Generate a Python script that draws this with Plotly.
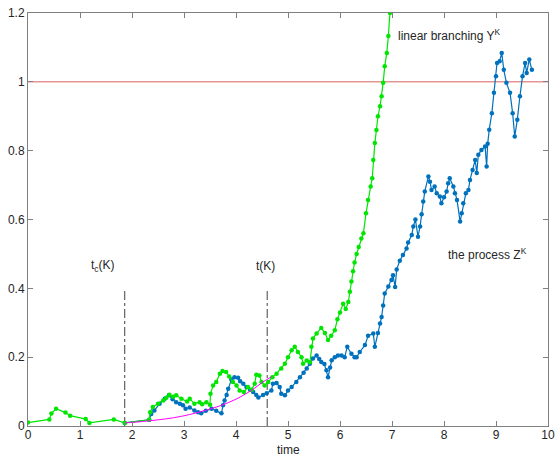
import plotly.graph_objects as go

# ---- data ----
green_x = [0, 0.41, 0.45, 0.54, 0.72, 0.81, 1.11, 1.18, 1.65, 1.86,
           2.33, 2.35, 2.40, 2.50, 2.60, 2.66, 2.72, 2.79, 2.85, 2.95, 3.06, 3.11, 3.20, 3.30, 3.35, 3.43, 3.50,
           3.51, 3.56, 3.62, 3.69, 3.74, 3.81, 3.87, 3.94, 4.01, 4.07, 4.15, 4.23, 4.30, 4.36, 4.39, 4.45, 4.49,
           4.55, 4.62, 4.70, 4.78, 4.87, 4.94, 5.00, 5.07, 5.13, 5.19, 5.26, 5.29, 5.36, 5.42, 5.45, 5.48, 5.55,
           5.64, 5.71, 5.77, 5.83, 5.90, 5.95, 6.00, 6.06, 6.11, 6.16, 6.19, 6.22, 6.25, 6.28, 6.32, 6.36, 6.41,
           6.45, 6.50, 6.54, 6.59, 6.62, 6.64, 6.67, 6.70, 6.73, 6.77, 6.80, 6.83, 6.86, 6.90, 6.93, 6.96]
green_y = [0.010, 0.019, 0.036, 0.050, 0.039, 0.030, 0.020, 0.009, 0.019, 0.009,
           0.018, 0.040, 0.055, 0.065, 0.074, 0.082, 0.091, 0.085, 0.089, 0.079, 0.071, 0.079, 0.065, 0.069, 0.063, 0.069, 0.062,
           0.094, 0.118, 0.128, 0.152, 0.160, 0.157, 0.144, 0.128, 0.118, 0.103, 0.099, 0.113, 0.105, 0.123, 0.149, 0.147, 0.128,
           0.118, 0.128, 0.142, 0.152, 0.167, 0.181, 0.200, 0.220, 0.230, 0.215, 0.200, 0.181, 0.190, 0.185, 0.230, 0.254, 0.269,
           0.285, 0.270, 0.250, 0.262, 0.278, 0.310, 0.330, 0.355, 0.340, 0.360, 0.390, 0.420, 0.450, 0.475, 0.500, 0.520, 0.545,
           0.560, 0.618, 0.657, 0.696, 0.720, 0.773, 0.822, 0.860, 0.900, 0.929, 0.958, 0.997, 1.045, 1.084, 1.133, 1.200]

blue_x = [1.86, 2.33, 2.37, 2.43, 2.53, 2.63, 2.71, 2.78, 2.85, 2.92, 2.98, 3.03, 3.11, 3.20, 3.27, 3.33, 3.42, 3.53,
          3.62, 3.72, 3.75, 3.78, 3.82, 3.85, 3.91, 3.97, 4.04, 4.08, 4.14, 4.20, 4.27, 4.33, 4.39, 4.43, 4.52, 4.59,
          4.68, 4.71, 4.78, 4.84, 4.87, 4.94, 5.00, 5.07, 5.16, 5.23, 5.30, 5.36, 5.42, 5.48, 5.55, 5.60, 5.64, 5.70,
          5.74, 5.77, 5.81, 5.84, 5.90, 5.96, 6.03, 6.09, 6.14, 6.22, 6.28, 6.32, 6.38, 6.48, 6.54, 6.64, 6.67, 6.73,
          6.77, 6.80, 6.83, 6.86, 6.93, 6.99, 7.02, 7.06, 7.09, 7.15, 7.21, 7.28, 7.31, 7.38, 7.41, 7.45, 7.50, 7.54,
          7.57, 7.60, 7.63, 7.70, 7.73, 7.76, 7.82, 7.86, 7.92, 7.95, 8.00, 8.05, 8.08, 8.11, 8.18, 8.21, 8.25, 8.31,
          8.34, 8.37, 8.42, 8.47, 8.50, 8.55, 8.60, 8.63, 8.66, 8.72, 8.79, 8.82, 8.84, 8.87, 8.92, 8.96, 9.00, 9.02,
          9.07, 9.11, 9.15, 9.20, 9.27, 9.32, 9.36, 9.41, 9.46, 9.51, 9.56, 9.59, 9.64, 9.69]
blue_y = [0.009, 0.018, 0.035, 0.045, 0.065, 0.079, 0.089, 0.078, 0.069, 0.065, 0.060, 0.050, 0.054, 0.045, 0.040, 0.037, 0.044, 0.050,
          0.044, 0.037, 0.060, 0.074, 0.090, 0.108, 0.135, 0.142, 0.140, 0.130, 0.123, 0.113, 0.105, 0.099, 0.090, 0.083, 0.090, 0.095,
          0.103, 0.123, 0.125, 0.113, 0.094, 0.089, 0.103, 0.113, 0.128, 0.142, 0.155, 0.167, 0.181, 0.196, 0.205, 0.195, 0.186, 0.180,
          0.162, 0.142, 0.170, 0.191, 0.200, 0.205, 0.205, 0.200, 0.230, 0.210, 0.200, 0.200, 0.215, 0.235, 0.262, 0.269, 0.230, 0.270,
          0.298, 0.317, 0.350, 0.385, 0.405, 0.424, 0.438, 0.404, 0.455, 0.480, 0.497, 0.516, 0.533, 0.555, 0.580, 0.600, 0.550, 0.580,
          0.615, 0.652, 0.681, 0.725, 0.710, 0.686, 0.696, 0.676, 0.667, 0.647, 0.665, 0.681, 0.705, 0.720, 0.696, 0.676, 0.657, 0.594,
          0.618, 0.647, 0.676, 0.686, 0.715, 0.744, 0.773, 0.735, 0.788, 0.802, 0.812, 0.754, 0.820, 0.861, 0.909, 0.968, 1.016, 1.055,
          1.060, 1.084, 1.035, 0.997, 0.968, 0.909, 0.841, 0.890, 0.958, 1.016, 1.055, 1.026, 1.065, 1.035]

magenta_x = [1.86, 2.2, 2.5, 2.8, 3.1, 3.4, 3.7, 4.0, 4.3, 4.5, 4.68]
magenta_y = [0.009, 0.013, 0.018, 0.024, 0.033, 0.045, 0.059, 0.078, 0.104, 0.126, 0.143]

threshold_x = [0, 10]
threshold_y = [1, 1]

tc_x = 1.86
tk_x = 4.60
marker_line_top = 0.4

x_ticks = [0, 1, 2, 3, 4, 5, 6, 7, 8, 9, 10]
y_ticks = [0, 0.2, 0.4, 0.6, 0.8, 1, 1.2]
y_tick_text = ["0", "0.2", "0.4", "0.6", "0.8", "1", "1.2"]

BLUE = "#0072BD"
GREEN = "#00E600"
FONT = "Liberation Sans, Arial, sans-serif"

fig = go.Figure()

fig.add_trace(go.Scatter(x=threshold_x, y=threshold_y, mode="lines",
                         line=dict(color="#D95F5F", width=1), hoverinfo="skip"))
fig.add_trace(go.Scatter(x=[tc_x, tc_x], y=[0, marker_line_top], mode="lines",
                         line=dict(color="#404040", width=1, dash="dashdot")))
fig.add_trace(go.Scatter(x=[tk_x, tk_x], y=[0, marker_line_top], mode="lines",
                         line=dict(color="#404040", width=1, dash="dashdot")))
fig.add_trace(go.Scatter(x=blue_x, y=blue_y, mode="lines+markers",
                         line=dict(color=BLUE, width=1.2),
                         marker=dict(color=BLUE, size=4.5, symbol="circle")))
fig.add_trace(go.Scatter(x=green_x, y=green_y, mode="lines+markers",
                         line=dict(color=GREEN, width=1.2),
                         marker=dict(color=GREEN, size=4.5, symbol="circle")))
fig.add_trace(go.Scatter(x=magenta_x, y=magenta_y, mode="lines",
                         line=dict(color="#FF00FF", width=1, shape="spline")))

ann_font = dict(family=FONT, size=12, color="#262626")
fig.add_annotation(x=1.45, y=0.465, text="t<sub>c</sub>(K)", showarrow=False, font=ann_font,
                   xanchor="center", yanchor="middle")
fig.add_annotation(x=4.57, y=0.465, text="t(K)", showarrow=False, font=ann_font,
                   xanchor="center", yanchor="middle")
fig.add_annotation(x=7.08, y=1.135, text="linear branching Y<sup>K</sup>", showarrow=False, font=ann_font,
                   xanchor="left", yanchor="middle")
fig.add_annotation(x=8.03, y=0.50, text="the process Z<sup>K</sup>", showarrow=False, font=ann_font,
                   xanchor="left", yanchor="middle")
# x-axis title
fig.add_annotation(x=0.5, xref="paper", y=0, yref="paper", yshift=-24, text="time", showarrow=False,
                   font=ann_font, xanchor="center", yanchor="middle")

axis_common = dict(showline=True, linecolor="#808080", linewidth=1, mirror="ticks",
                   ticks="inside", ticklen=5, tickcolor="#808080", tickwidth=1,
                   showgrid=False, zeroline=False, automargin=False,
                   tickfont=dict(family=FONT, size=12, color="#262626"))

fig.update_xaxes(range=[0, 10], tickvals=x_ticks, ticklabelstandoff=-2, **axis_common)
fig.update_yaxes(range=[0, 1.2], tickvals=y_ticks, ticktext=y_tick_text, **axis_common)

fig.update_layout(width=560, height=457, margin=dict(l=28, r=12, t=13, b=31, autoexpand=False),
                  plot_bgcolor="white", paper_bgcolor="white", showlegend=False)

fig.write_html("out.html", config={"displayModeBar": False},
               post_script="document.body.style.margin='0';document.body.style.padding='0';"
                           "document.documentElement.style.overflow='hidden';")
